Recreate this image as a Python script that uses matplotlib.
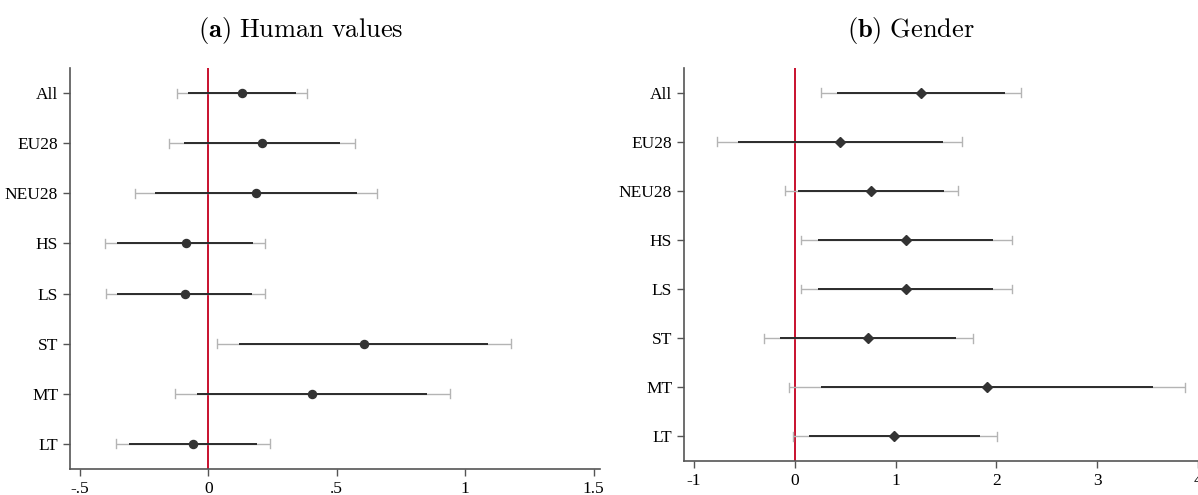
import numpy as np
import matplotlib
matplotlib.use("Agg")
import matplotlib.pyplot as plt

plt.rcParams['font.family'] = ['Liberation Serif', 'DejaVu Serif']
plt.rcParams['mathtext.fontset'] = 'cm'

# data
groups = ['All', 'EU28', 'NEU28', 'HS', 'LS', 'ST', 'MT', 'LT']

# (a) Human values: point, inner CI, outer CI
hv_point = [0.13, 0.208, 0.185, -0.088, -0.09, 0.605, 0.403, -0.061]
hv_in_lo = [-0.081, -0.095, -0.208, -0.356, -0.355, 0.118, -0.045, -0.311]
hv_in_hi = [0.343, 0.511, 0.58, 0.173, 0.17, 1.09, 0.85, 0.189]
hv_out_lo = [-0.123, -0.154, -0.284, -0.403, -0.40, 0.033, -0.13, -0.36]
hv_out_hi = [0.384, 0.57, 0.655, 0.22, 0.22, 1.18, 0.94, 0.24]

# (b) Gender
g_point = [1.251, 0.449, 0.755, 1.10, 1.10, 0.726, 1.908, 0.988]
g_in_lo = [0.418, -0.564, 0.03, 0.23, 0.23, -0.15, 0.259, 0.14]
g_in_hi = [2.084, 1.467, 1.48, 1.97, 1.97, 1.597, 3.553, 1.833]
g_out_lo = [0.256, -0.769, -0.098, 0.06, 0.06, -0.31, -0.06, -0.023]
g_out_hi = [2.247, 1.66, 1.62, 2.15, 2.15, 1.766, 3.874, 2.003]

hv_ticks = [-0.5, 0, 0.5, 1, 1.5]
hv_ticklabels = ['-.5', '0', '.5', '1', '1.5']
g_ticks = [-1, 0, 1, 2, 3, 4]
g_ticklabels = ['-1', '0', '1', '2', '3', '4']

fig = plt.figure(figsize=(11.98, 4.95), dpi=100)
ax1 = fig.add_axes([70/1198, 1-469/495, 530/1198, 401/495])
ax2 = fig.add_axes([684/1198, 1-461/495, 520/1198, 393/495])


def draw(ax, point, in_lo, in_hi, out_lo, out_hi, marker, ms):
    y = np.arange(len(groups))
    ax.axvline(0, color='#c8102e', lw=1.4, zorder=1)
    ax.hlines(y, out_lo, out_hi, color='#b4b4b4', lw=1.0, zorder=2)
    for lo, hi, yy in zip(out_lo, out_hi, y):
        ax.plot([lo, lo], [yy - 0.09, yy + 0.09], color='#b4b4b4', lw=1.0, zorder=2)
        ax.plot([hi, hi], [yy - 0.09, yy + 0.09], color='#b4b4b4', lw=1.0, zorder=2)
    ax.hlines(y, in_lo, in_hi, color='#2b2b2b', lw=1.4, zorder=3)
    ax.plot(point, y, ls='none', marker=marker, color='#333333', ms=ms, zorder=4)
    ax.set_yticks(y)
    ax.set_yticklabels(groups)
    ax.set_ylim(7.5, -0.5)
    for s in ['top', 'right']:
        ax.spines[s].set_visible(False)
    for s in ['left', 'bottom']:
        ax.spines[s].set_color('#555555')
        ax.spines[s].set_linewidth(1.2)
    ax.tick_params(axis='both', colors='#555555', labelcolor='black', labelsize=12.5,
                   length=5, width=1.0)


draw(ax1, hv_point, hv_in_lo, hv_in_hi, hv_out_lo, hv_out_hi, 'o', 5.8)
ax1.set_xlim(-0.539, 1.525)
ax1.set_xticks(hv_ticks)
ax1.set_xticklabels(hv_ticklabels)

draw(ax2, g_point, g_in_lo, g_in_hi, g_out_lo, g_out_hi, 'D', 5.3)
ax2.set_xlim(-1.1, 4.06)
ax2.set_xticks(g_ticks)
ax2.set_xticklabels(g_ticklabels)

fig.text(301/1198, 1-31/495, r'$\mathbf{(a)}\ \mathrm{Human\ values}$', ha='center', va='center', fontsize=19)
fig.text(911/1198, 1-31/495, r'$\mathbf{(b)}\ \mathrm{Gender}$', ha='center', va='center', fontsize=19)

fig.savefig('out.png', dpi=100)
